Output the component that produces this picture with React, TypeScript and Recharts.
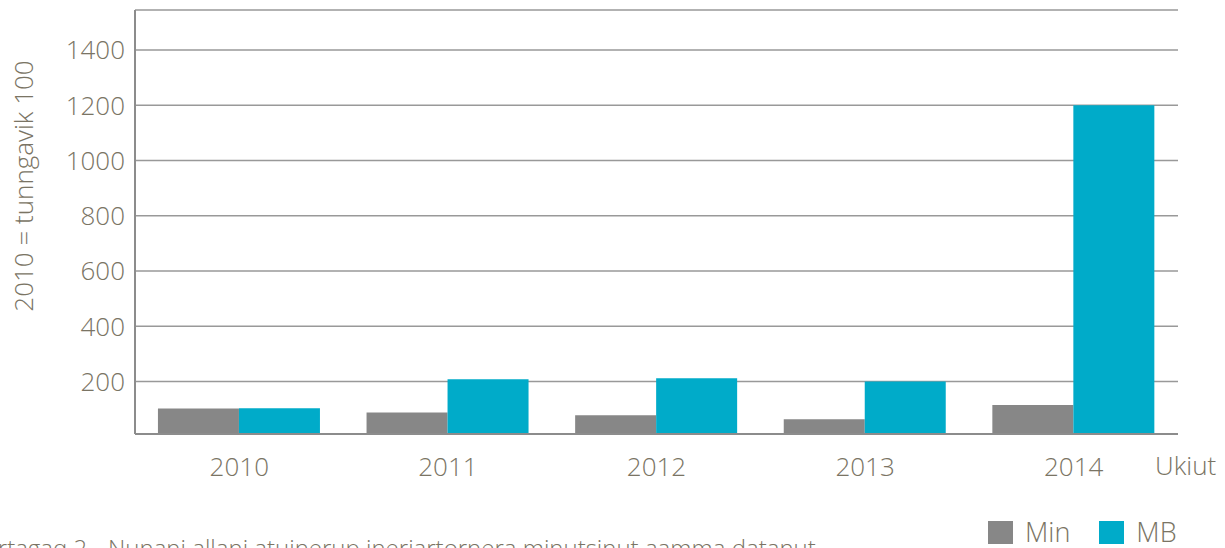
import React from 'react';
import { BarChart, Bar, XAxis, YAxis, CartesianGrid, Legend, Customized } from 'recharts';

const years = ['2010', '2011', '2012', '2013', '2014'];
const minValues = [102, 88, 78, 63, 115];
const mbValues = [103, 208, 212, 200, 1200];
const yTicks = [200, 400, 600, 800, 1000, 1200, 1400];
const seriesNames = ['Min', 'MB'];
const seriesColors = ['#878787', '#00abc9'];
const yAxisTitle = '2010 = tunngavik 100';
const xAxisTitle = 'Ukiut';
const captionPrefix = 'Titartagaq 2.';
const captionText = 'Nunani allani atuinerup ineriartornera minutsinut aamma datanut';

const data = years.map((y, i) => ({ year: y, Min: minValues[i], MB: mbValues[i] }));

const FONT = "'Open Sans', sans-serif";
const TEXT = '#7a7464';
const AXIS = '#8c8c8c';

const LegendContent = () => (
  <div style={{ display: 'flex', alignItems: 'center', fontFamily: FONT, fontWeight: 300, fontSize: 27, color: TEXT, height: 32 }}>
    {seriesNames.map((n, i) => (
      <div key={n} style={{ display: 'flex', alignItems: 'center', height: 32, marginRight: i === 0 ? 29 : 0 }}>
        <div style={{ width: 25, height: 23, background: seriesColors[i], marginRight: 12 }} />
        <span style={{ lineHeight: '32px', whiteSpace: 'nowrap' }}>{n}</span>
      </div>
    ))}
  </div>
);

const Extras = () => (
  <g fontFamily={FONT} fontWeight={300} fill={TEXT}>
    <text x={23} y={186} transform="rotate(-90 23 186)" textAnchor="middle" dominantBaseline="central" fontSize={26}>
      {yAxisTitle}
    </text>
    <text x={1155} y={475} fontSize={26}>{xAxisTitle}</text>
    <text x={93} y={557} textAnchor="end" fontSize={24}>{captionPrefix}</text>
    <text x={108} y={557} fontSize={24}>{captionText}</text>
  </g>
);

export default function App() {
  return (
    <div style={{ position: 'absolute', left: 0, top: 0, width: 1225, height: 548, background: '#fff' }}>
      <BarChart
        width={1225}
        height={548}
        data={data}
        margin={{ top: 10, right: 47, bottom: 52, left: 0 }}
        barCategoryGap="11%"
        barGap={0}
      >
        <CartesianGrid vertical={false} stroke="#999999" strokeWidth={1.5} />
        <XAxis
          dataKey="year"
          height={30}
          tickLine={false}
          tickSize={0}
          tickMargin={24}
          axisLine={{ stroke: AXIS, strokeWidth: 2 }}
          tick={{ fill: TEXT, fontSize: 26, fontFamily: FONT, fontWeight: 300 }}
        />
        <YAxis
          width={135}
          domain={[10, 1545]}
          ticks={yTicks}
          allowDataOverflow
          tickLine={false}
          tickSize={0}
          tickMargin={10}
          axisLine={{ stroke: AXIS, strokeWidth: 2 }}
          tick={{ fill: TEXT, fontSize: 26, fontFamily: FONT, fontWeight: 300 }}
        />
        <Bar dataKey="Min" name={seriesNames[0]} fill={seriesColors[0]} isAnimationActive={false} />
        <Bar dataKey="MB" name={seriesNames[1]} fill={seriesColors[1]} isAnimationActive={false} />
        <Legend
          content={<LegendContent />}
          wrapperStyle={{ position: 'absolute', left: 988, top: 516, width: 'auto', height: 32, bottom: 'auto' }}
        />
        <Customized component={Extras} />
      </BarChart>
    </div>
  );
}
